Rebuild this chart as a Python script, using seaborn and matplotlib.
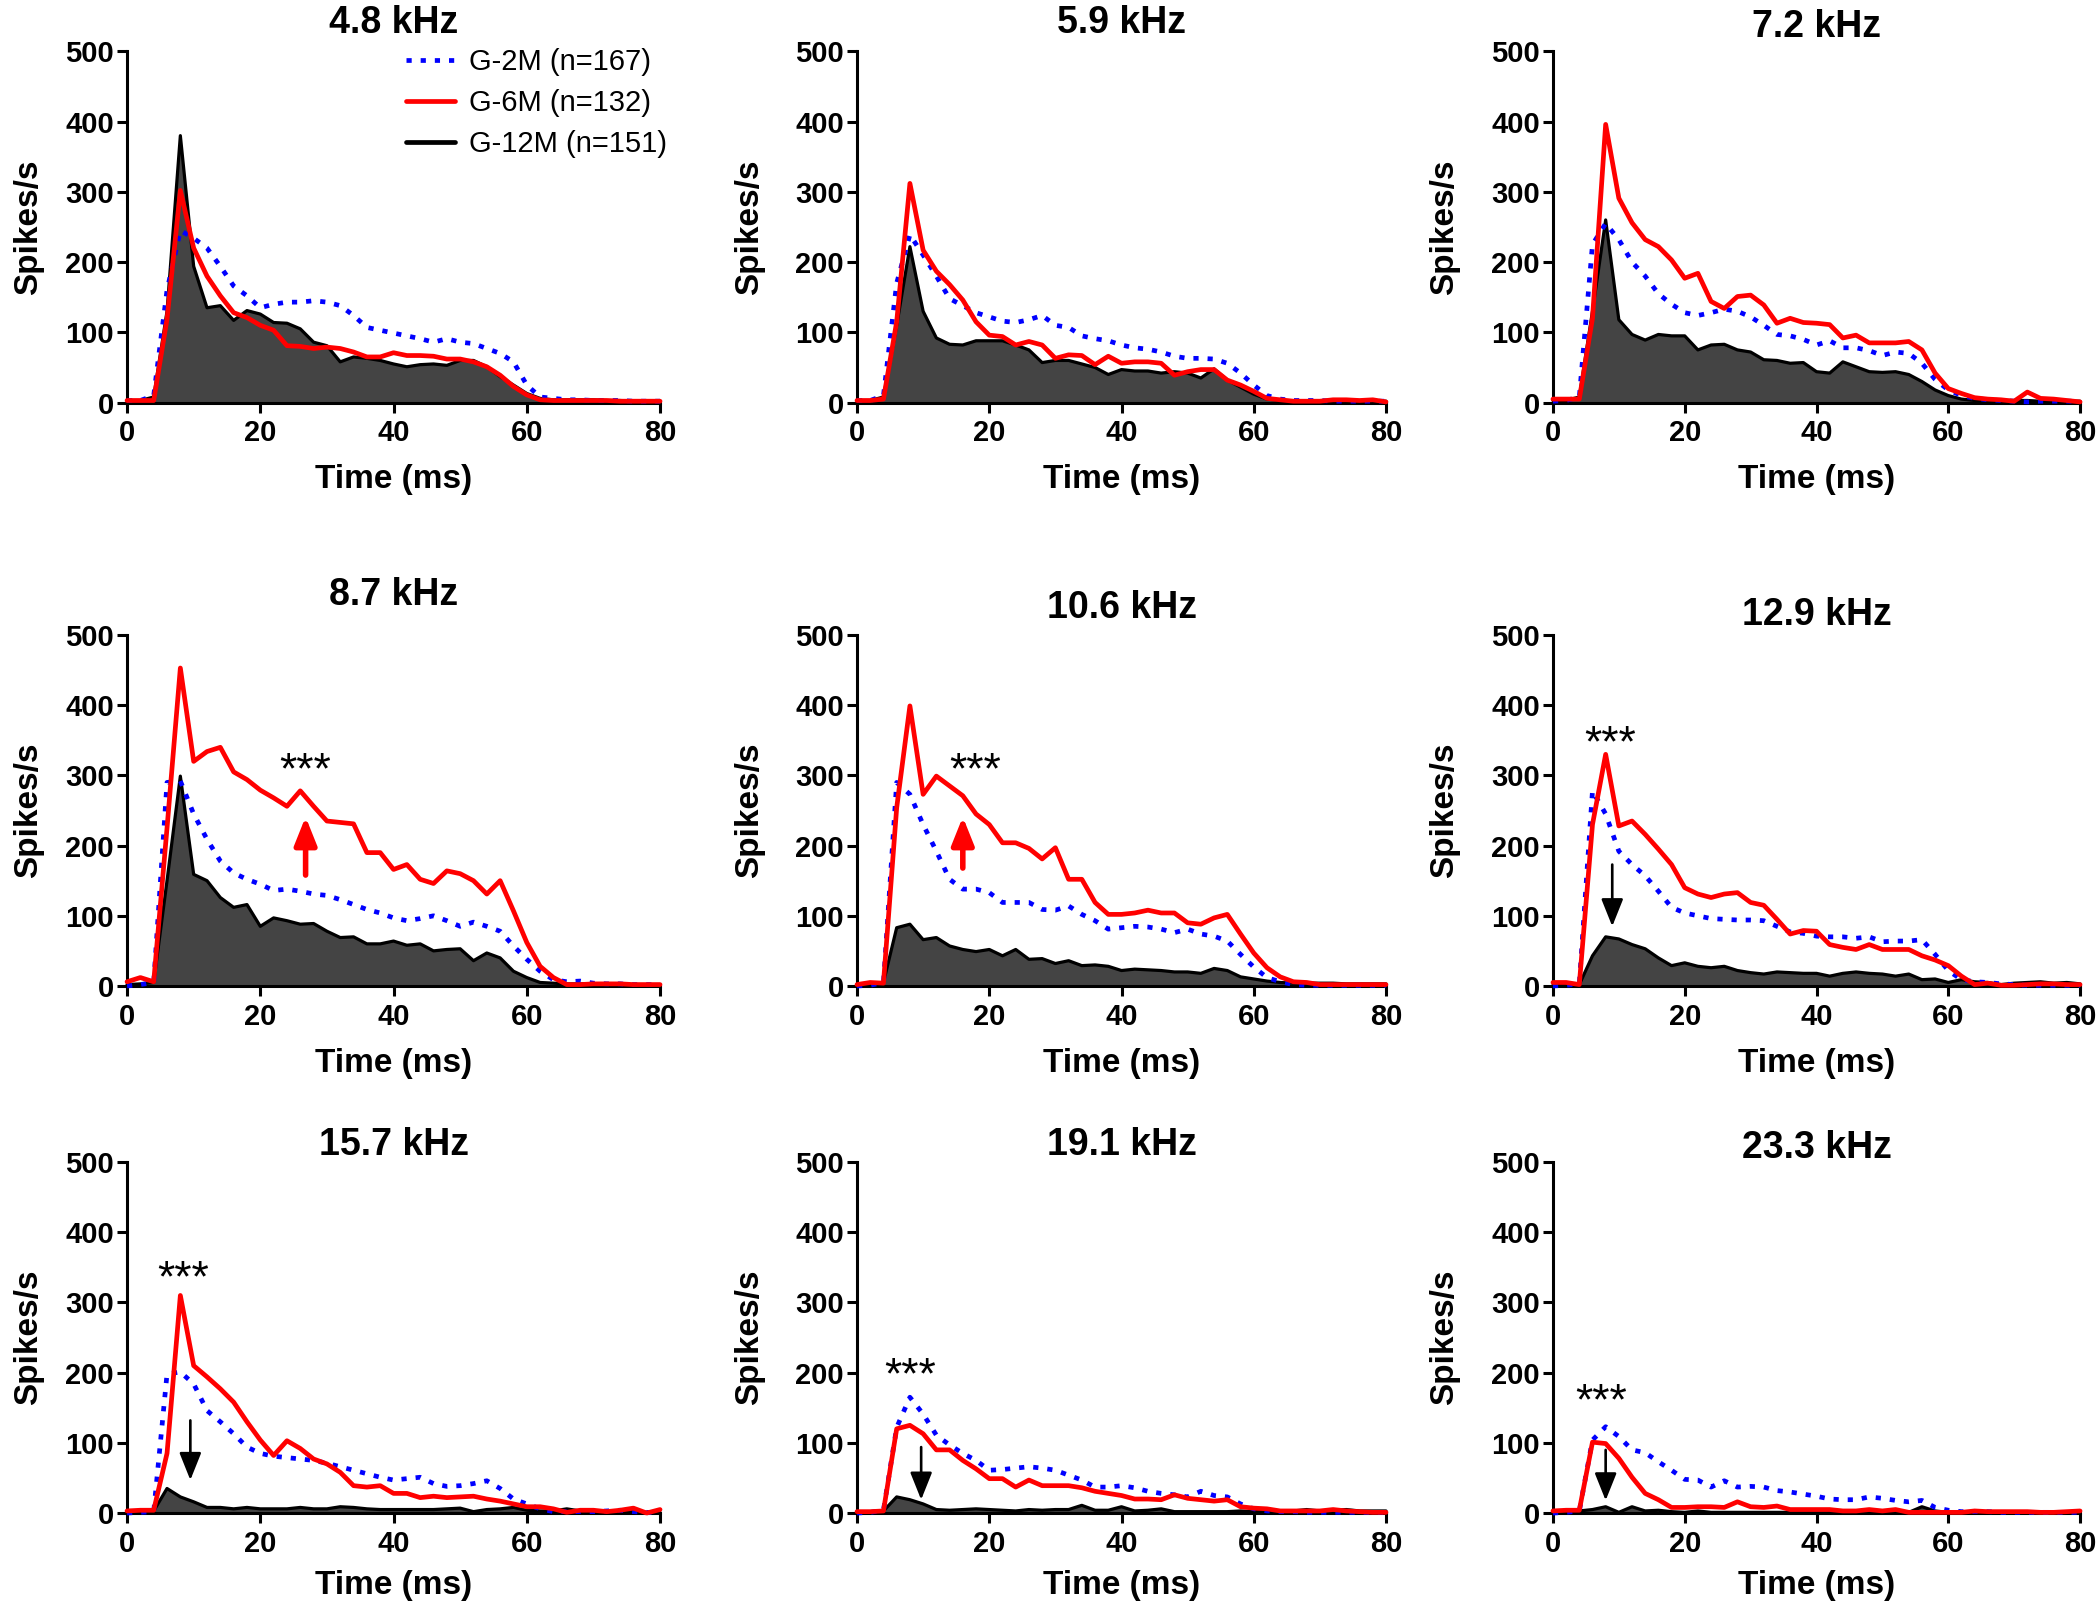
"""
PSTH panels: G-2M / G-6M / G-12M responses at nine tone frequencies.
Output: out.png
"""

import matplotlib
matplotlib.use("Agg")
import numpy as np
import pandas as pd
import matplotlib.pyplot as plt
from matplotlib.lines import Line2D
import seaborn as sns

sns.set_theme(style="ticks")
plt.rcParams["font.family"] = ["Liberation Sans", "DejaVu Sans"]
for key in ("text.color", "axes.labelcolor", "xtick.color", "ytick.color", "axes.edgecolor"):
    plt.rcParams[key] = "black"

# ── Data (2 ms bins, 0–80 ms) ────────────────────────────────────────────────
TIME = list(range(0, 81, 2))
FREQS = ["4.8 kHz", "5.9 kHz", "7.2 kHz", "8.7 kHz", "10.6 kHz",
         "12.9 kHz", "15.7 kHz", "19.1 kHz", "23.3 kHz"]
GROUP_LABELS = ["G-2M (n=167)", "G-6M (n=132)", "G-12M (n=151)"]

g2m_48 = [3, 3, 10, 160, 245, 234, 220, 194, 166, 152, 135, 140, 143, 143, 145, 143, 138, 124, 107, 103, 99,
          95, 91, 86, 91, 86, 84, 77, 70, 58, 25, 8, 6, 4, 4, 3, 3, 3, 2, 2, 2]
g6m_48 = [3, 3, 3, 119, 302, 220, 180, 152, 128, 121, 110, 103, 81, 80, 77, 79, 77, 72, 65, 65, 71,
          67, 67, 66, 62, 62, 58, 51, 39, 23, 11, 4, 3, 3, 3, 3, 3, 2, 2, 2, 2]
g12m_48 = [3, 3, 8, 130, 380, 194, 135, 138, 117, 131, 126, 114, 113, 105, 86, 81, 58, 65, 63, 60, 55,
           51, 54, 55, 53, 60, 60, 51, 37, 25, 13, 6, 4, 4, 4, 4, 3, 3, 2, 2, 2]

g2m_59 = [3, 3, 10, 170, 239, 210, 180, 148, 138, 128, 122, 116, 114, 118, 124, 110, 107, 95, 91, 88, 82,
          78, 76, 72, 66, 63, 63, 62, 56, 42, 25, 10, 5, 3, 3, 3, 2, 2, 2, 2, 2]
g6m_59 = [3, 3, 5, 115, 312, 217, 187, 168, 146, 115, 96, 94, 82, 87, 82, 63, 68, 67, 54, 66, 56,
          58, 58, 56, 39, 44, 47, 47, 32, 25, 16, 6, 4, 2, 2, 2, 4, 4, 3, 4, 1]
g12m_59 = [3, 3, 8, 110, 222, 130, 92, 83, 82, 88, 88, 88, 82, 75, 57, 60, 60, 55, 50, 40, 47,
           45, 45, 42, 44, 42, 35, 48, 32, 22, 12, 5, 3, 2, 2, 2, 2, 2, 2, 2, 2]

g2m_72 = [2, 3, 8, 225, 255, 232, 200, 180, 155, 140, 128, 124, 128, 133, 130, 122, 110, 97, 95, 90, 82,
          88, 78, 78, 74, 67, 72, 70, 56, 33, 18, 10, 6, 4, 3, 2, 1, 2, 2, 2, 2]
g6m_72 = [5, 5, 5, 120, 396, 291, 256, 232, 222, 203, 177, 184, 144, 134, 151, 153, 139, 113, 120, 114, 113,
          111, 92, 96, 85, 85, 85, 87, 75, 42, 20, 13, 7, 5, 4, 2, 15, 6, 5, 3, 1]
g12m_72 = [3, 3, 8, 130, 260, 118, 97, 89, 97, 95, 95, 75, 82, 83, 75, 72, 61, 60, 56, 57, 44,
           42, 58, 51, 44, 43, 44, 40, 30, 18, 10, 5, 3, 3, 3, 3, 3, 2, 2, 2, 2]

g2m_87 = [0, 2, 5, 290, 292, 245, 209, 178, 161, 152, 145, 136, 138, 135, 131, 129, 123, 116, 109, 104, 97,
          93, 96, 100, 93, 85, 91, 85, 78, 57, 38, 21, 9, 6, 7, 4, 3, 3, 2, 2, 2]
g6m_87 = [6, 12, 6, 225, 453, 320, 334, 340, 305, 294, 279, 268, 256, 278, 256, 235, 233, 231, 190, 190, 166,
          173, 152, 146, 164, 160, 150, 131, 150, 107, 62, 28, 12, 2, 2, 3, 3, 3, 2, 2, 2]
g12m_87 = [2, 3, 5, 150, 299, 159, 150, 126, 112, 116, 85, 97, 93, 88, 89, 78, 69, 70, 60, 60, 64,
           58, 60, 50, 52, 53, 36, 47, 40, 21, 12, 5, 4, 3, 3, 3, 3, 2, 2, 2, 2]

g2m_106 = [0, 1, 5, 290, 273, 230, 192, 152, 138, 138, 133, 119, 119, 119, 109, 108, 114, 102, 93, 81, 83,
           85, 84, 81, 76, 81, 74, 71, 64, 45, 27, 12, 6, 2, 1, 1, 1, 1, 1, 1, 1]
g6m_106 = [2, 5, 4, 254, 399, 273, 299, 285, 271, 245, 230, 204, 204, 196, 181, 197, 152, 152, 119, 102, 102,
           104, 108, 104, 104, 90, 88, 97, 102, 74, 47, 26, 13, 6, 5, 2, 2, 2, 2, 2, 2]
g12m_106 = [2, 3, 5, 83, 88, 66, 69, 57, 52, 49, 52, 43, 52, 38, 39, 32, 36, 29, 30, 28, 22,
            24, 23, 22, 20, 20, 18, 25, 22, 13, 10, 7, 5, 4, 4, 4, 4, 3, 3, 3, 3]

g2m_129 = [0, 1, 3, 278, 245, 192, 173, 157, 135, 112, 104, 100, 96, 95, 94, 94, 93, 85, 77, 75, 71,
           70, 70, 68, 70, 63, 64, 64, 66, 45, 22, 9, 6, 5, 3, 2, 1, 1, 1, 1, 1]
g6m_129 = [5, 5, 2, 230, 330, 228, 235, 216, 195, 173, 140, 131, 126, 131, 133, 119, 115, 95, 74, 79, 78,
           59, 55, 52, 59, 52, 52, 52, 43, 37, 29, 14, 2, 4, 1, 1, 2, 3, 3, 2, 2]
g12m_129 = [1, 2, 2, 43, 70, 67, 59, 53, 40, 29, 33, 28, 26, 28, 22, 19, 17, 20, 19, 18, 18,
            14, 18, 20, 18, 17, 14, 17, 9, 10, 5, 9, 6, 5, 2, 4, 5, 6, 4, 5, 3]

g2m_157 = [0, 1, 2, 198, 201, 184, 146, 130, 113, 94, 85, 81, 79, 77, 75, 71, 66, 61, 56, 51, 47,
           49, 51, 42, 38, 39, 42, 46, 35, 20, 13, 6, 2, 2, 2, 2, 3, 4, 2, 1, 0]
g6m_157 = [3, 4, 4, 85, 310, 210, 194, 177, 158, 130, 104, 82, 103, 92, 77, 70, 58, 39, 37, 39, 28,
           28, 22, 24, 22, 23, 24, 20, 17, 13, 9, 9, 6, 1, 4, 4, 2, 4, 7, 0, 5]
g12m_157 = [1, 2, 3, 35, 23, 16, 8, 8, 6, 8, 6, 6, 6, 8, 6, 6, 9, 8, 6, 5, 5,
            5, 5, 5, 6, 7, 2, 5, 6, 8, 4, 3, 3, 6, 3, 2, 2, 2, 3, 1, 1]

g2m_191 = [0, 1, 4, 122, 165, 141, 111, 97, 85, 75, 61, 62, 64, 66, 64, 61, 54, 47, 37, 37, 39,
           36, 31, 28, 26, 23, 31, 25, 23, 13, 6, 3, 2, 2, 1, 1, 1, 1, 1, 1, 1]
g6m_191 = [2, 2, 3, 120, 125, 113, 90, 90, 75, 63, 49, 49, 37, 47, 39, 39, 39, 36, 31, 28, 25,
           20, 20, 19, 26, 21, 19, 17, 19, 9, 7, 6, 3, 3, 3, 3, 5, 3, 2, 1, 1]
g12m_191 = [2, 2, 3, 23, 19, 13, 5, 4, 5, 6, 5, 4, 3, 5, 4, 5, 5, 11, 4, 4, 9,
            3, 4, 6, 2, 2, 2, 2, 2, 3, 2, 3, 3, 3, 5, 3, 4, 5, 3, 3, 3]

g2m_233 = [0, 1, 3, 104, 123, 109, 90, 86, 73, 61, 48, 47, 37, 46, 37, 38, 37, 32, 30, 27, 24,
           20, 19, 19, 23, 21, 18, 16, 18, 8, 4, 2, 2, 2, 1, 1, 1, 1, 1, 1, 1]
g6m_233 = [3, 4, 4, 101, 99, 78, 51, 28, 19, 8, 8, 9, 9, 8, 16, 9, 8, 10, 5, 5, 5,
           5, 3, 3, 5, 3, 5, 1, 1, 1, 1, 1, 3, 2, 2, 2, 2, 1, 1, 2, 3]
g12m_233 = [2, 2, 3, 5, 9, 1, 9, 3, 4, 2, 1, 3, 1, 1, 1, 1, 1, 1, 1, 1, 1,
            1, 1, 1, 1, 1, 1, 1, 9, 3, 1, 1, 1, 1, 1, 1, 1, 1, 1, 1, 1]

G2M = [g2m_48, g2m_59, g2m_72, g2m_87, g2m_106, g2m_129, g2m_157, g2m_191, g2m_233]
G6M = [g6m_48, g6m_59, g6m_72, g6m_87, g6m_106, g6m_129, g6m_157, g6m_191, g6m_233]
G12M = [g12m_48, g12m_59, g12m_72, g12m_87, g12m_106, g12m_129, g12m_157, g12m_191, g12m_233]

# significance marks: panel index -> (star x, star centre y, arrow x, arrow start y, arrow tip y, colour)
MARKS = {
    3: (26.7, 321, 26.8, 158, 241, "#ff0000"),
    4: (17.8, 321, 16.0, 168, 241, "#ff0000"),
    5: (8.75, 359, 9.0, 173, 85, "black"),
    6: (8.4, 347, 9.5, 132, 47, "black"),
    7: (8.1, 210, 9.7, 94, 19, "black"),
    8: (7.3, 172, 8.0, 90, 18, "black"),
}

# ── Layout (figure fractions) ────────────────────────────────────────────────
COL_LEFT = [0.0605, 0.4081, 0.7395]
COL_W = [0.2538, 0.2519, 0.2510]
ROW_BOTTOM = [0.749, 0.3853, 0.0567]
ROW_H = [0.219, 0.2188, 0.2188]
TITLE_OFF = [28, 28, 24, 40, 27, 20, 17, 17, 14]   # px above axes top
YLAB_X = [-0.156, -0.174, -0.176]
XLAB_Y = [-0.176, -0.176, -0.162]

BLUE, RED, GREY = "#0000ff", "#ff0000", "#444444"
DOTS = (0, (1.1, 1.9))
STAR_SIZE = 32

fig = plt.figure(figsize=(21, 16.04), dpi=100)

for i, freq in enumerate(FREQS):
    r, c = divmod(i, 3)
    ax = fig.add_axes([COL_LEFT[c], ROW_BOTTOM[r], COL_W[c], ROW_H[r]])
    df = pd.DataFrame({"t": TIME, "g2": G2M[i], "g6": G6M[i], "g12": G12M[i]})

    ax.fill_between(df["t"], 0, df["g12"], color=GREY, linewidth=0, zorder=1)
    sns.lineplot(data=df, x="t", y="g12", ax=ax, color="black", linewidth=2.3,
                 clip_on=False, zorder=2)
    sns.lineplot(data=df, x="t", y="g2", ax=ax, color=BLUE, linewidth=3.4,
                 linestyle=DOTS, clip_on=False, zorder=3)
    sns.lineplot(data=df, x="t", y="g6", ax=ax, color=RED, linewidth=3.4,
                 clip_on=False, zorder=4)

    ax.set_xlim(0, 80)
    ax.set_ylim(0, 500)
    ax.set_xticks([0, 20, 40, 60, 80])
    ax.set_yticks([0, 100, 200, 300, 400, 500])
    ax.tick_params(axis="both", direction="out", length=7, width=2.2,
                   labelsize=21, colors="black")
    ax.tick_params(axis="x", pad=5)
    ax.tick_params(axis="y", pad=2.5)
    for lab in ax.get_xticklabels() + ax.get_yticklabels():
        lab.set_fontweight("bold")
    sns.despine(ax=ax)
    for side in ("left", "bottom"):
        ax.spines[side].set_linewidth(2.2)
        ax.spines[side].set_color("black")
    ax.grid(False)

    ax.set_xlabel("Time (ms)", fontsize=24, fontweight="bold")
    ax.set_ylabel("Spikes/s", fontsize=24, fontweight="bold")
    ax.xaxis.set_label_coords(0.5, XLAB_Y[r])
    ax.yaxis.set_label_coords(YLAB_X[c], 0.5)

    ax_h_px = ROW_H[r] * 1604
    ax.text(0.5, 1 + TITLE_OFF[i] / ax_h_px, freq, transform=ax.transAxes,
            ha="center", va="center", fontsize=27, fontweight="bold")

    if i in MARKS:
        sx, sy, axx, y0, y1, col = MARKS[i]
        # asterisk ink sits about half an em above the baseline
        base_y = sy - 0.5 * STAR_SIZE * (100 / 72) * 500 / ax_h_px
        ax.text(sx, base_y, "***", ha="center", va="baseline", fontsize=STAR_SIZE)
        ax.annotate("", xy=(axx, y1), xytext=(axx, y0),
                    arrowprops=dict(arrowstyle="-|>,head_length=0.7,head_width=0.28",
                                    color=col, lw=4.0 if col != "black" else 1.9,
                                    shrinkA=0, shrinkB=0, mutation_scale=24))

    if i == 0:
        handles = [Line2D([], [], color=BLUE, linewidth=3.4, linestyle=DOTS),
                   Line2D([], [], color=RED, linewidth=3.4),
                   Line2D([], [], color="black", linewidth=3.4)]
        ax.legend(handles, GROUP_LABELS, loc="upper left",
                  bbox_to_anchor=(0.523, 1.01), frameon=False, fontsize=21,
                  handlelength=1.7, handletextpad=0.45, labelspacing=0.45,
                  borderpad=0, borderaxespad=0)

fig.savefig("out.png", dpi=100)
